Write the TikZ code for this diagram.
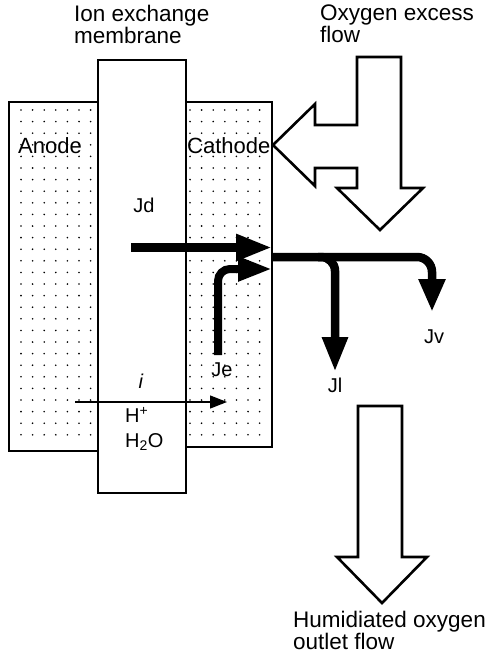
\documentclass[tikz,border=0pt]{standalone}
\usepackage{fontspec}
\setmainfont{Liberation Sans}
\usepackage{tikz}
\usetikzlibrary{arrows.meta,positioning,calc}

\begin{document}
\begin{tikzpicture}[x=1pt,y=-1pt,
    bigtext/.style={font=\fontsize{22.5}{22}\selectfont, inner sep=0pt, align=left},
    smalltext/.style={font=\fontsize{20}{25}\selectfont, inner sep=0pt, align=left},
    flux/.style={line width=8.5pt, -{Triangle[length=36pt,width=25pt]}},
    blockarrow/.style={line width=2.6pt, line join=miter, fill=white}]
        \useasboundingbox (0,0) rectangle (490,655);
        % electrodes and membrane
        \draw[line width=1.2pt] (9,102) rectangle (98,451);
        \draw[line width=1.2pt] (186,102) rectangle (272,447);
        \foreach \x in {21,32.6,...,92} \foreach \y in {110,121.6,...,446} \fill (\x,\y) circle (0.9pt);
        \foreach \x in {190,201.6,...,268} \foreach \y in {110,121.6,...,442} \fill (\x,\y) circle (0.9pt);
        \draw[line width=1.8pt] (98,60) rectangle (186,493);
        % block arrows
        \draw[blockarrow] (357,57) -- (401,57) -- (401,188) -- (423,188) -- (380,230) -- (337,188) -- (357,188)
            -- (357,168) -- (315,168) -- (315,186) -- (273,145) -- (315,104) -- (315,125) -- (357,125) -- cycle;
        \draw[blockarrow] (358,406) -- (402,406) -- (402,557) -- (427,557) -- (382,603) -- (337,557) -- (358,557) -- cycle;
        % fluxes
        \coordinate (jdstart) at (131,247.5);
        \coordinate (jdtip) at (272,247.5);
        \coordinate (jestart) at (218,355);
        \coordinate (jetip) at (272,269);
        \coordinate (jout) at (271,257);
        \coordinate (jlfork) at (318,257);
        \coordinate (jltip) at (335,372);
        \coordinate (jvtip) at (432,312);
        \coordinate (istart) at (75,402);
        \coordinate (itip) at (227,402);
        \draw[flux] (jdstart) -- (jdtip);
        \draw[flux, line width=8pt, -{Triangle[length=34pt,width=23pt]}, rounded corners=12pt] (jestart) |- (jetip);
        \draw[flux, -{Triangle[length=33pt,width=25pt]}, rounded corners=15pt] (jout) -| (jvtip);
        \draw[flux, -{Triangle[length=35pt,width=24pt]}, rounded corners=14pt] (jlfork) -| (jltip);
        \draw[line width=1.3pt, -{Triangle[length=17pt,width=13pt]}] (istart) -- (itip);
        % labels
        \node[bigtext, anchor=north west] (membranelabel) at (74,5) {Ion exchange\\membrane};
        \node[bigtext, anchor=north west] (inletlabel) at (320,5) {Oxygen excess\\flow};
        \node[bigtext, anchor=north west] (outletlabel) at (293,611) {Humidiated oxygen\\outlet flow};
        \node[bigtext, font=\fontsize{22}{22}\selectfont, anchor=west] (anodelabel) at (18,146) {Anode};
        \node[bigtext, font=\fontsize{22}{22}\selectfont, anchor=west] (cathodelabel) at (187,146) {Cathode};
        \node[smalltext] (jdlabel) at (144,205) {Jd};
        \node[smalltext] (jelabel) at (222,370) {Je};
        \node[smalltext] (jllabel) at (335,385) {Jl};
        \node[smalltext] (jvlabel) at (434,337) {Jv};
        \node[smalltext] (ilabel) at (141,381) {\textit{i}};
        \node[smalltext, anchor=north west] (ionlabel) at (125,407) {H\textsuperscript{+}\\H\textsubscript{2}O};
\end{tikzpicture}
\end{document}
